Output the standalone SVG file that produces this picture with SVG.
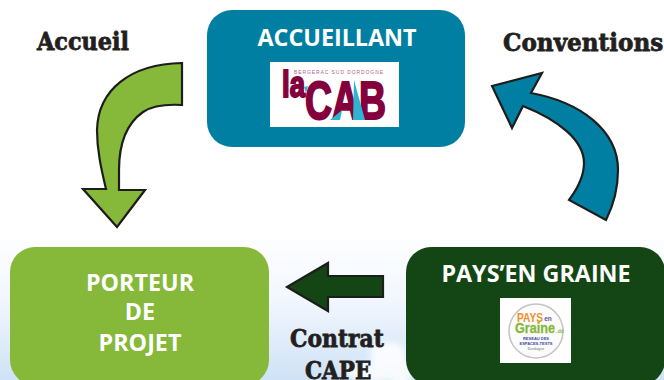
<svg xmlns="http://www.w3.org/2000/svg" width="664" height="380" viewBox="0 0 664 380">
  <style>
    .title { font-family: "Open Sans", "Noto Sans", sans-serif; font-weight: 700; font-size: 23.300px; fill: #ffffff; text-anchor: middle; }
    .label { font-family: "DejaVu Serif", "Liberation Serif", serif; font-weight: 700; fill: #231f20; stroke: #231f20; stroke-width: 0.800; font-size: 25px; }
    .arrow { stroke: #1d1d1b; stroke-width: 2.200; stroke-linejoin: miter; }
    .cab { font-family: "Liberation Sans", Arial, sans-serif; font-weight: 700; fill: #84003c; stroke: #84003c; stroke-width: 2; }
    .pg { font-family: "Liberation Sans", Arial, sans-serif; font-weight: 700; text-anchor: middle; }
  </style>
  <defs>
    <linearGradient id="sky" x1="0" y1="0" x2="0" y2="1">
      <stop offset="0" stop-color="#ffffff"/>
      <stop offset="0.45" stop-color="#f2f7fe"/>
      <stop offset="1" stop-color="#cfe2f6"/>
    </linearGradient>
    <filter id="soft" x="-30%" y="-30%" width="160%" height="160%"><feGaussianBlur stdDeviation="3"/></filter>
  </defs>

  <rect width="664" height="380" fill="#ffffff"/>
  <rect x="0" y="232" width="664" height="148" fill="url(#sky)"/>
  <g fill="#ffffff" filter="url(#soft)" opacity="0.85">
    <ellipse cx="388" cy="354" rx="18" ry="12"/>
    <ellipse cx="372" cy="372" rx="26" ry="10"/>
    <ellipse cx="400" cy="372" rx="12" ry="14"/>
  </g>

  <g id="connectors">
    <path id="arrow-accueil" class="arrow" fill="#86b83a" d="M182 63 L182 105 C165 104 152 106 143 112 C126 124 119 145 119 170 L119 190 L145 190 L117 227 L83 189 L106 189 C101 168 97 150 97 130 C98 90 130 64 182 63 Z"/>
    <path id="arrow-conventions" class="arrow" fill="#007fa3" d="M492 86 L542 73 L531 93 C580 102 618 130 618 170 C618 188 614 204 606 220 L569 200 C578 188 584 176 584 163 C584 140 558 120 523 106 L512 128 Z"/>
    <path id="arrow-contrat" class="arrow" fill="#144514" d="M287 287 L328 263 L328 276 L383 276 L383 297 L328 297 L328 311 Z"/>
  </g>

  <g id="node-accueillant">
    <rect x="207" y="10" width="258" height="137" rx="25" fill="#007fa3"/>
    <text class="title" x="337" y="45.500">ACCUEILLANT</text>
    <g id="logo-cab">
      <rect x="270" y="62" width="129" height="65" fill="#ffffff"/>
      <text x="294" y="73.500" font-family="'Liberation Sans', Arial, sans-serif" font-size="5" fill="#b0658a" textLength="89" lengthAdjust="spacing">BERGERAC SUD DORDOGNE</text>
      <text class="cab" x="282" y="97" font-size="37" textLength="23" lengthAdjust="spacingAndGlyphs">la</text>
      <text class="cab" x="305" y="119" font-size="53" textLength="81" lengthAdjust="spacingAndGlyphs">CAB</text>
      <path d="M330 120 L342 110 L340 120 Z M354 80 L365 120 L353 120 Z M304 87 L308 86 L306 93 Z" fill="#2eb4d0"/>
    </g>
  </g>

  <g id="node-porteur">
    <rect x="10" y="247" width="259" height="138" rx="25" fill="#86b83a"/>
    <text class="title" x="140" y="291">PORTEUR</text>
    <text class="title" x="140" y="320">DE</text>
    <text class="title" x="140" y="351">PROJET</text>
  </g>

  <g id="node-pays">
    <rect x="406" y="247" width="259" height="138" rx="25" fill="#144514"/>
    <text class="title" x="536" y="282">PAYS’EN GRAINE</text>
    <g id="logo-pays">
      <rect x="500" y="298" width="71" height="65" fill="#ffffff"/>
      <circle cx="536" cy="331" r="27" fill="#fbfbfb" stroke="#c4c4c4" stroke-width="1.500"/>
      <text class="pg" x="530" y="321.500" font-size="12" fill="#f0902a" textLength="26" lengthAdjust="spacingAndGlyphs">PAYS</text>
      <text class="pg" x="548" y="321" font-size="6.500" fill="#5b4fa5">en</text>
      <text class="pg" x="535" y="333" font-size="14" fill="#86b83a" stroke="#86b83a" stroke-width="0.300" textLength="40" lengthAdjust="spacingAndGlyphs">Graine</text>
      <text class="pg" x="560" y="332.500" font-size="5" fill="#86b83a">.dd</text>
      <text class="pg" x="536" y="339.500" font-size="4" fill="#3b4aa0">RESEAU DES</text>
      <text class="pg" x="536" y="344.500" font-size="4" fill="#3b4aa0">ESPACES-TESTS</text>
      <text class="pg" x="536" y="349.500" font-size="3.500" fill="#999999">Dordogne</text>
    </g>
  </g>

  <text class="label" transform="translate(37 50) scale(0.895 1)">Accueil</text>
  <text class="label" transform="translate(503 51) scale(0.925 1)">Conventions</text>
  <text class="label" transform="translate(290 347) scale(0.876 1)">Contrat</text>
  <text class="label" transform="translate(305 379) scale(0.860 1)">CAPE</text>
</svg>
